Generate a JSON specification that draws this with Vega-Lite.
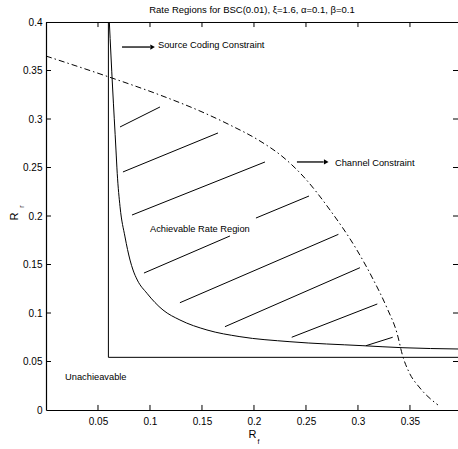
{
  "$schema": "https://vega.github.io/schema/vega-lite/v6.json",
  "width": 412,
  "height": 388,
  "autosize": "none",
  "padding": {"left": 46, "top": 22, "right": 0, "bottom": 39},
  "background": "white",
  "title": {"text": "Rate Regions for BSC(0.01), ξ=1.6, α=0.1, β=0.1", "font": "Liberation Sans", "fontSize": 9.5, "fontWeight": "normal", "color": "black", "offset": 3},
  "config": {
    "view": {"stroke": null},
    "font": "Liberation Sans",
    "axis": {"domainColor": "black", "domainWidth": 1.2, "tickColor": "black", "labelColor": "black", "titleColor": "black", "grid": false, "labelFont": "Liberation Sans", "labelFontSize": 10, "titleFont": "Liberation Sans", "titleFontWeight": "normal", "titleFontSize": 11, "zindex": 1}
  },
  "datasets": {
    "channel": [
      {"r1": 0.0, "rr": 0.3649}, {"r1": 0.0606, "rr": 0.3433}, {"r1": 0.1096, "rr": 0.3247}, {"r1": 0.1481, "rr": 0.3082},
      {"r1": 0.1769, "rr": 0.2938}, {"r1": 0.2058, "rr": 0.2773}, {"r1": 0.2279, "rr": 0.2608}, {"r1": 0.2471, "rr": 0.2412},
      {"r1": 0.2731, "rr": 0.2062}, {"r1": 0.299, "rr": 0.1649}, {"r1": 0.3144, "rr": 0.1351}, {"r1": 0.3279, "rr": 0.1052},
      {"r1": 0.3375, "rr": 0.0794}, {"r1": 0.3433, "rr": 0.0546}, {"r1": 0.349, "rr": 0.0392}, {"r1": 0.3596, "rr": 0.0227},
      {"r1": 0.3769, "rr": 0.0052}
    ],
    "source": [
      {"r1": 0.0609, "rr": 0.4}, {"r1": 0.064, "rr": 0.333}, {"r1": 0.0673, "rr": 0.268}, {"r1": 0.0685, "rr": 0.244},
      {"r1": 0.0712, "rr": 0.2096}, {"r1": 0.076, "rr": 0.1784}, {"r1": 0.0808, "rr": 0.1546}, {"r1": 0.0837, "rr": 0.1443},
      {"r1": 0.0878, "rr": 0.134}, {"r1": 0.0971, "rr": 0.1203}, {"r1": 0.1125, "rr": 0.1031}, {"r1": 0.1288, "rr": 0.0928},
      {"r1": 0.1548, "rr": 0.0825}, {"r1": 0.1865, "rr": 0.0756}, {"r1": 0.2346, "rr": 0.0704}, {"r1": 0.3048, "rr": 0.0663},
      {"r1": 0.3433, "rr": 0.0642}, {"r1": 0.3962, "rr": 0.0629}
    ],
    "corner": [
      {"o": 1, "r1": 0.06, "rr": 0.4}, {"o": 2, "r1": 0.06, "rr": 0.0543}, {"o": 3, "r1": 0.3962, "rr": 0.0543}
    ],
    "hatch": [
      {"seg": 1, "r1": 0.0712, "rr": 0.2918}, {"seg": 1, "r1": 0.1096, "rr": 0.3124},
      {"seg": 2, "r1": 0.074, "rr": 0.2454}, {"seg": 2, "r1": 0.1654, "rr": 0.2856},
      {"seg": 3, "r1": 0.0827, "rr": 0.201}, {"seg": 3, "r1": 0.2106, "rr": 0.2557},
      {"seg": 4, "r1": 0.2019, "rr": 0.1979}, {"seg": 4, "r1": 0.2529, "rr": 0.2206},
      {"seg": 5, "r1": 0.0942, "rr": 0.1412}, {"seg": 5, "r1": 0.1769, "rr": 0.1794},
      {"seg": 6, "r1": 0.1288, "rr": 0.1106}, {"seg": 6, "r1": 0.2812, "rr": 0.1811},
      {"seg": 7, "r1": 0.1721, "rr": 0.0859}, {"seg": 7, "r1": 0.3019, "rr": 0.1467},
      {"seg": 8, "r1": 0.2363, "rr": 0.075}, {"seg": 8, "r1": 0.3186, "rr": 0.1093},
      {"seg": 9, "r1": 0.3077, "rr": 0.0663}, {"seg": 9, "r1": 0.3334, "rr": 0.075}
    ],
    "arrows": [
      {"r1": 0.0731, "r1end": 0.1, "head": 0.1025, "rr": 0.3742},
      {"r1": 0.2413, "r1end": 0.267, "head": 0.2695, "rr": 0.2557}
    ],
    "labels": [
      {"r1": 0.1077, "rr": 0.3763, "text": "Source Coding Constraint"},
      {"r1": 0.2779, "rr": 0.255, "text": "Channel Constraint"},
      {"r1": 0.1, "rr": 0.1866, "text": "Achievable Rate Region"},
      {"r1": 0.0183, "rr": 0.0343, "text": "Unachieavable"}
    ],
    "subs": [
      {"r1": 0.2035, "rr": -0.0325, "text": "f", "angle": 0},
      {"r1": -0.0235, "rr": 0.2085, "text": "r", "angle": 270}
    ],
    "tickx": [
      {"v": 0.05, "a": 0, "b": 0.0052}, {"v": 0.1, "a": 0, "b": 0.0052}, {"v": 0.15, "a": 0, "b": 0.0052}, {"v": 0.2, "a": 0, "b": 0.0052},
      {"v": 0.25, "a": 0, "b": 0.0052}, {"v": 0.3, "a": 0, "b": 0.0052}, {"v": 0.35, "a": 0, "b": 0.0052},
      {"v": 0.05, "a": 0.4, "b": 0.3948}, {"v": 0.1, "a": 0.4, "b": 0.3948}, {"v": 0.15, "a": 0.4, "b": 0.3948}, {"v": 0.2, "a": 0.4, "b": 0.3948},
      {"v": 0.25, "a": 0.4, "b": 0.3948}, {"v": 0.3, "a": 0.4, "b": 0.3948}, {"v": 0.35, "a": 0.4, "b": 0.3948}
    ],
    "ticky": [
      {"v": 0.05, "a": 0, "b": 0.0048}, {"v": 0.1, "a": 0, "b": 0.0048}, {"v": 0.15, "a": 0, "b": 0.0048}, {"v": 0.2, "a": 0, "b": 0.0048},
      {"v": 0.25, "a": 0, "b": 0.0048}, {"v": 0.3, "a": 0, "b": 0.0048}, {"v": 0.35, "a": 0, "b": 0.0048},
      {"v": 0.05, "a": 0.3962, "b": 0.3914}, {"v": 0.1, "a": 0.3962, "b": 0.3914}, {"v": 0.15, "a": 0.3962, "b": 0.3914}, {"v": 0.2, "a": 0.3962, "b": 0.3914},
      {"v": 0.25, "a": 0.3962, "b": 0.3914}, {"v": 0.3, "a": 0.3962, "b": 0.3914}, {"v": 0.35, "a": 0.3962, "b": 0.3914}
    ]
  },
  "layer": [
    {
      "data": {"name": "tickx"},
      "transform": [{"filter": "datum.v == 0.05 && datum.a == 0"}],
      "mark": {"type": "rule", "color": "black", "strokeWidth": 1},
      "encoding": {
        "x": {"datum": 0, "type": "quantitative", "scale": {"domain": [0, 0.3962], "nice": false, "zero": false},
          "axis": {"orient": "bottom", "values": [0.05, 0.1, 0.15, 0.2, 0.25, 0.3, 0.35], "format": ".2~f", "ticks": false, "labelPadding": 6, "title": "R", "titlePadding": 2}},
        "x2": {"datum": 0.3962},
        "y": {"datum": 0.3995, "type": "quantitative", "scale": {"domain": [0, 0.4], "nice": false, "zero": false},
          "axis": {"orient": "left", "values": [0, 0.05, 0.1, 0.15, 0.2, 0.25, 0.3, 0.35, 0.4], "format": ".2~f", "ticks": false, "labelPadding": 4, "title": "R", "titlePadding": 3}}
      }
    },
    {
      "data": {"name": "tickx"},
      "mark": {"type": "rule", "color": "black", "strokeWidth": 1},
      "encoding": {
        "x": {"field": "v", "type": "quantitative"},
        "y": {"field": "a", "type": "quantitative"},
        "y2": {"field": "b"}
      }
    },
    {
      "data": {"name": "ticky"},
      "mark": {"type": "rule", "color": "black", "strokeWidth": 1},
      "encoding": {
        "y": {"field": "v", "type": "quantitative"},
        "x": {"field": "a", "type": "quantitative"},
        "x2": {"field": "b"}
      }
    },
    {
      "data": {"name": "channel"},
      "mark": {"type": "line", "color": "black", "strokeWidth": 1, "strokeDash": [6, 3, 1.5, 3], "interpolate": "monotone", "clip": true},
      "encoding": {
        "x": {"field": "r1", "type": "quantitative"},
        "y": {"field": "rr", "type": "quantitative"}
      }
    },
    {
      "data": {"name": "source"},
      "mark": {"type": "line", "color": "black", "strokeWidth": 1, "interpolate": "monotone", "clip": true},
      "encoding": {
        "x": {"field": "r1", "type": "quantitative"},
        "y": {"field": "rr", "type": "quantitative"}
      }
    },
    {
      "data": {"name": "corner"},
      "mark": {"type": "line", "color": "black", "strokeWidth": 1},
      "encoding": {
        "x": {"field": "r1", "type": "quantitative"},
        "y": {"field": "rr", "type": "quantitative"},
        "order": {"field": "o"}
      }
    },
    {
      "data": {"name": "hatch"},
      "mark": {"type": "line", "color": "black", "strokeWidth": 1},
      "encoding": {
        "x": {"field": "r1", "type": "quantitative"},
        "y": {"field": "rr", "type": "quantitative"},
        "detail": {"field": "seg"}
      }
    },
    {
      "data": {"name": "arrows"},
      "mark": {"type": "rule", "color": "black", "strokeWidth": 1.3},
      "encoding": {
        "x": {"field": "r1", "type": "quantitative"},
        "x2": {"field": "r1end"},
        "y": {"field": "rr", "type": "quantitative"}
      }
    },
    {
      "data": {"name": "arrows"},
      "mark": {"type": "point", "shape": "triangle-right", "filled": true, "color": "black", "opacity": 1, "size": 28},
      "encoding": {
        "x": {"field": "head", "type": "quantitative"},
        "y": {"field": "rr", "type": "quantitative"}
      }
    },
    {
      "data": {"name": "labels"},
      "mark": {"type": "text", "align": "left", "baseline": "middle", "font": "Liberation Sans", "fontSize": 9.3, "color": "black"},
      "encoding": {
        "x": {"field": "r1", "type": "quantitative"},
        "y": {"field": "rr", "type": "quantitative"},
        "text": {"field": "text"}
      }
    },
    {
      "data": {"name": "subs"},
      "mark": {"type": "text", "align": "left", "baseline": "middle", "font": "Liberation Sans", "fontSize": 7, "color": "black", "clip": false},
      "encoding": {
        "x": {"field": "r1", "type": "quantitative"},
        "y": {"field": "rr", "type": "quantitative"},
        "text": {"field": "text"},
        "angle": {"field": "angle", "type": "quantitative", "scale": null}
      }
    }
  ]
}
